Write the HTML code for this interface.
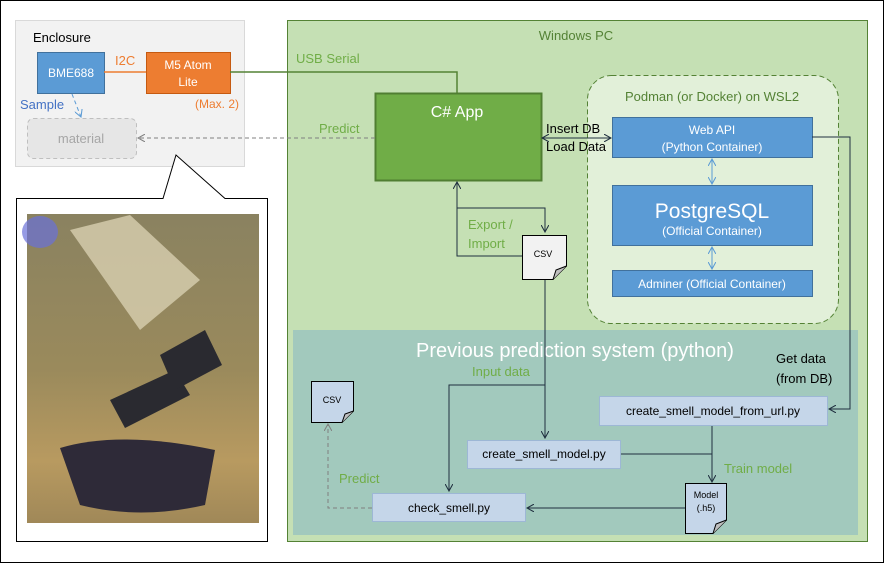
<!DOCTYPE html>
<html><head><meta charset="utf-8"><style>
html,body{margin:0;padding:0;background:#fff}
svg{display:block;font-family:"Liberation Sans",sans-serif}
</style></head><body>
<svg width="884" height="563" viewBox="0 0 884 563" xmlns="http://www.w3.org/2000/svg">
<defs>
<marker id="ab" viewBox="0 0 10 10" refX="9" refY="5" markerWidth="8" markerHeight="8" orient="auto-start-reverse"><path d="M0,0 L9,5 L0,10" fill="none" stroke="#203040" stroke-width="1.3"/></marker>
<marker id="ag" viewBox="0 0 10 10" refX="9" refY="5" markerWidth="8" markerHeight="8" orient="auto-start-reverse"><path d="M0,0 L9,5 L0,10" fill="none" stroke="#808080" stroke-width="1.3"/></marker>
<marker id="abl" viewBox="0 0 10 10" refX="9" refY="5" markerWidth="8" markerHeight="8" orient="auto-start-reverse"><path d="M0,0 L9,5 L0,10" fill="none" stroke="#5b9bd5" stroke-width="1.3"/></marker>
<linearGradient id="ph" x1="0" y1="0" x2="0" y2="1">
<stop offset="0" stop-color="#8a8260"/><stop offset="0.5" stop-color="#9a8a5c"/><stop offset="0.8" stop-color="#b89a60"/><stop offset="1" stop-color="#a08858"/></linearGradient>
</defs>
<rect x="0.5" y="0.5" width="883" height="562" fill="#fff" stroke="#000"/>
<!-- Enclosure -->
<rect x="15.5" y="20.5" width="229" height="146" fill="#f2f2f2" stroke="#d9d9d9"/>
<text x="33" y="42" font-size="13" fill="#000">Enclosure</text>
<rect x="37.5" y="52.5" width="67" height="41" fill="#5b9bd5" stroke="#41719c"/>
<text x="71" y="77" font-size="12" fill="#fff" text-anchor="middle">BME688</text>
<line x1="104" y1="72" x2="146" y2="72" stroke="#ed7d31" stroke-width="1.5"/>
<text x="115" y="65" font-size="13" fill="#ed7d31">I2C</text>
<rect x="146.5" y="52.5" width="84" height="41" fill="#ed7d31" stroke="#c55a11"/>
<text x="188" y="69" font-size="12" fill="#fff" text-anchor="middle">M5 Atom</text>
<text x="188" y="86" font-size="12" fill="#fff" text-anchor="middle">Lite</text>
<text x="239" y="108" font-size="12" fill="#ed7d31" text-anchor="end">(Max. 2)</text>
<text x="20" y="109" font-size="13" fill="#4472c4">Sample</text>
<line x1="72" y1="94" x2="81" y2="117" stroke="#5b9bd5" stroke-dasharray="4,3" marker-end="url(#abl)"/>
<rect x="27.5" y="118.5" width="109" height="40" rx="6" fill="#e6e6e6" stroke="#bfbfbf" stroke-dasharray="4,3"/>
<text x="81" y="143" font-size="13" fill="#a6a6a6" text-anchor="middle">material</text>
<!-- Callout -->
<path d="M16.5,198.5 L163,198.5 L176,155 L225,198.5 L267.5,198.5 L267.5,541.5 L16.5,541.5 Z" fill="#fff" stroke="#000"/>
<rect x="27" y="214" width="232" height="309" fill="url(#ph)"/>
<ellipse cx="40" cy="232" rx="18" ry="16" fill="#6a70d8" opacity="0.7"/>
<path d="M70,230 L130,215 L200,280 L140,330 Z" fill="#d8cfb0" opacity="0.8"/>
<path d="M110,400 L175,370 L190,395 L125,428 Z" fill="#2a2a30"/>
<path d="M160,355 L205,330 L222,365 L175,390 Z" fill="#2a2a30"/>
<path d="M60,448 Q120,430 215,450 L205,505 Q140,520 80,505 Z" fill="#2e2a38"/>
<!-- Windows PC -->
<rect x="287.5" y="20.5" width="580" height="521" fill="#c5e0b4" stroke="#548235"/>
<text x="576" y="40" font-size="13" fill="#548235" text-anchor="middle">Windows PC</text>
<text x="296" y="63" font-size="13" fill="#70ad47">USB Serial</text>
<polyline points="230,72 457,72 457,93" fill="none" stroke="#548235" stroke-width="1.5"/>
<rect x="375.5" y="93.5" width="166" height="87" fill="#70ad47" stroke="#507e32" stroke-width="2"/>
<text x="457" y="117" font-size="16" fill="#fff" text-anchor="middle">C# App</text>
<text x="319" y="133" font-size="13" fill="#70ad47">Predict</text>
<line x1="375" y1="138" x2="138" y2="138" stroke="#808080" stroke-dasharray="4,3" marker-end="url(#ag)"/>
<!-- Podman -->
<rect x="587.5" y="75.5" width="251" height="248" rx="24" fill="#e2f0d9" stroke="#548235" stroke-dasharray="5,3"/>
<text x="712" y="101" font-size="13" fill="#548235" text-anchor="middle">Podman (or Docker) on WSL2</text>
<rect x="612.5" y="117.5" width="200" height="40" fill="#5b9bd5" stroke="#41719c"/>
<text x="712" y="134" font-size="12" fill="#fff" text-anchor="middle">Web API</text>
<text x="712" y="151" font-size="12" fill="#fff" text-anchor="middle">(Python Container)</text>
<rect x="612.5" y="185.5" width="200" height="60" fill="#5b9bd5" stroke="#41719c"/>
<text x="712" y="218" font-size="21" fill="#fff" text-anchor="middle">PostgreSQL</text>
<text x="712" y="235" font-size="12" fill="#fff" text-anchor="middle">(Official Container)</text>
<rect x="612.5" y="270.5" width="200" height="26" fill="#5b9bd5" stroke="#41719c"/>
<text x="712" y="288" font-size="12" fill="#fff" text-anchor="middle">Adminer (Official Container)</text>
<line x1="712" y1="159" x2="712" y2="184" stroke="#5b9bd5" marker-start="url(#abl)" marker-end="url(#abl)"/>
<line x1="712" y1="247" x2="712" y2="269" stroke="#5b9bd5" marker-start="url(#abl)" marker-end="url(#abl)"/>
<text x="546" y="133" font-size="13" fill="#000">Insert DB</text>
<text x="546" y="151" font-size="13" fill="#000">Load Data</text>
<line x1="542" y1="138" x2="611" y2="138" stroke="#203040" marker-start="url(#ab)" marker-end="url(#ab)"/>
<!-- Export/Import -->
<polyline points="522,256 457,256 457,182" fill="none" stroke="#203040" marker-end="url(#ab)"/>
<polyline points="457,208 545,208 545,232" fill="none" stroke="#203040" marker-end="url(#ab)"/>
<text x="468" y="229" font-size="13" fill="#70ad47">Export /</text>
<text x="468" y="248" font-size="13" fill="#70ad47">Import</text>
<path d="M522.5,235.5 L566.5,235.5 L566.5,266 L553,279.5 L522.5,279.5 Z" fill="#f2f2f2" stroke="#000"/>
<path d="M553,279.5 L556,270 L566.5,266" fill="#bfbfbf" stroke="#000"/>
<text x="543" y="257" font-size="9" fill="#000" text-anchor="middle">CSV</text>
<!-- Previous -->
<rect x="293" y="330" width="565" height="205" fill="#a2c9bd"/>
<text x="575" y="357" font-size="20" fill="#fff" text-anchor="middle">Previous prediction system (python)</text>
<line x1="545" y1="280" x2="545" y2="438" stroke="#203040" marker-end="url(#ab)"/>
<polyline points="545,385 449,385 449,491" fill="none" stroke="#203040" marker-end="url(#ab)"/>
<text x="472" y="376" font-size="13" fill="#70ad47">Input data</text>
<text x="776" y="363" font-size="13" fill="#000">Get data</text>
<text x="776" y="383" font-size="13" fill="#000">(from DB)</text>
<polyline points="812,137 850,137 850,409 829,409" fill="none" stroke="#203040" marker-end="url(#ab)"/>
<rect x="599.5" y="396.5" width="228" height="29" fill="#c5d6e9" stroke="#9db7d5"/>
<text x="713" y="415" font-size="12" fill="#000" text-anchor="middle">create_smell_model_from_url.py</text>
<rect x="467.5" y="440.5" width="153" height="28" fill="#c5d6e9" stroke="#9db7d5"/>
<text x="544" y="458" font-size="12" fill="#000" text-anchor="middle">create_smell_model.py</text>
<rect x="372.5" y="493.5" width="153" height="28" fill="#c5d6e9" stroke="#9db7d5"/>
<text x="449" y="512" font-size="12" fill="#000" text-anchor="middle">check_smell.py</text>
<line x1="712" y1="426" x2="712" y2="482" stroke="#203040" marker-end="url(#ab)"/>
<line x1="621" y1="454" x2="712" y2="454" stroke="#203040"/>
<text x="724" y="473" font-size="13" fill="#70ad47">Train model</text>
<path d="M685.5,483.5 L726.5,483.5 L726.5,520 L713,533.5 L685.5,533.5 Z" fill="#c5d6e9" stroke="#000"/>
<path d="M713,533.5 L716,524 L726.5,520" fill="#bfbfbf" stroke="#000"/>
<text x="706" y="498" font-size="9" fill="#000" text-anchor="middle">Model</text>
<text x="706" y="511" font-size="9" fill="#000" text-anchor="middle">(.h5)</text>
<line x1="685" y1="508" x2="527" y2="508" stroke="#203040" marker-end="url(#ab)"/>
<polyline points="372,508 328,508 328,424" fill="none" stroke="#808080" stroke-dasharray="4,3" marker-end="url(#ag)"/>
<text x="339" y="483" font-size="13" fill="#70ad47">Predict</text>
<path d="M311.5,381.5 L353.5,381.5 L353.5,411 L342,422.5 L311.5,422.5 Z" fill="#c5d6e9" stroke="#000"/>
<path d="M342,422.5 L345,414 L353.5,411" fill="#bfbfbf" stroke="#000"/>
<text x="332" y="403" font-size="9" fill="#000" text-anchor="middle">CSV</text>
</svg>
</body></html>
